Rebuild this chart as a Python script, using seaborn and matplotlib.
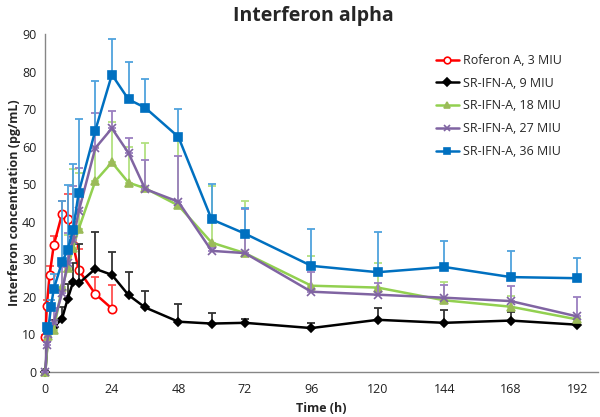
import numpy as np
import seaborn as sns
import matplotlib.pyplot as plt
from matplotlib.ticker import MultipleLocator

# Roferon A, 3 MIU
t_rof = [0, 0.5, 1.5, 3, 6, 8, 10, 12, 18, 24]
v_rof = [9.3, 17.5, 25.7, 33.7, 42.0, 40.6, 33.8, 27.1, 20.7, 16.8]
e_rof = [0.5, 1.5, 2.5, 2.5, 3.6, 6.8, 6.0, 5.5, 4.5, 6.2]

# SR-IFN-A, 9 MIU
t_9 = [0, 1, 3, 6, 8, 10, 12, 18, 24, 30, 36, 48, 60, 72, 96, 120, 144, 168, 192]
v_9 = [0, 10.5, 11.8, 14.1, 19.3, 23.9, 23.5, 27.4, 25.8, 20.4, 17.1, 13.3, 12.8,
       13.0, 11.6, 13.8, 13.0, 13.6, 12.5]
e_9 = [0, 1.0, 2.0, 3.0, 4.0, 5.0, 10.5, 9.8, 6.2, 6.1, 4.4, 4.7, 2.7,
       1.1, 1.3, 3.2, 3.4, 2.4, 0.3]

# SR-IFN-A, 18 MIU
t_18 = [0, 1, 3, 6, 8, 10, 12, 18, 24, 30, 36, 48, 60, 72, 96, 120, 144, 168, 192]
v_18 = [0, 9.5, 11.0, 22.5, 27.5, 33.0, 38.0, 50.8, 55.8, 50.4, 48.9, 44.3, 34.4,
        31.6, 22.9, 22.4, 19.0, 17.3, 13.9]
e_18 = [0, 1.0, 2.0, 4.0, 9.0, 21.0, 15.0, 9.0, 10.9, 9.5, 12.0, 18.4, 15.0,
        13.9, 7.8, 6.5, 4.9, 2.8, 0.5]

# SR-IFN-A, 27 MIU
t_27 = [0, 0.5, 1, 3, 6, 8, 10, 12, 18, 24, 30, 36, 48, 60, 72, 96, 120, 144, 168, 192]
v_27 = [0, 7.0, 10.0, 13.0, 21.0, 29.0, 35.0, 42.7, 59.6, 64.9, 58.3, 48.7, 45.3,
        32.2, 31.6, 21.3, 20.5, 19.7, 18.8, 14.7]
e_27 = [0, 1.0, 2.0, 4.0, 7.0, 8.0, 14.4, 11.7, 9.5, 4.7, 4.1, 7.8, 12.2,
        0.8, 11.7, 5.3, 3.0, 3.3, 3.9, 5.1]

# SR-IFN-A, 36 MIU
t_36 = [0.5, 1, 2, 3, 6, 8, 10, 12, 18, 24, 30, 36, 48, 60, 72, 96, 120, 144, 168, 192]
v_36 = [11.8, 11.1, 17.2, 22.0, 29.2, 32.4, 37.8, 47.7, 64.3, 79.2, 72.6, 70.4, 62.6,
        40.6, 36.8, 28.2, 26.5, 27.9, 25.2, 24.9]
e_36 = [1.0, 1.5, 2.0, 4.0, 16.4, 17.3, 17.5, 19.7, 13.3, 9.5, 10.0, 7.6, 7.4,
        9.5, 6.7, 9.9, 10.7, 6.8, 6.9, 5.5]

series = [
    ("Roferon A, 3 MIU", t_rof, v_rof, e_rof, "#FF0000", "#FF5050", "o", "white", "#FF0000", 6),
    ("SR-IFN-A, 9 MIU", t_9, v_9, e_9, "#000000", "#333333", "D", "#000000", "#000000", 4.5),
    ("SR-IFN-A, 18 MIU", t_18, v_18, e_18, "#92D050", "#B2E080", "^", "#9BBB59", "#9BBB59", 6),
    ("SR-IFN-A, 27 MIU", t_27, v_27, e_27, "#8064A2", "#9B7FC0", "x", "#8064A2", "#8064A2", 6),
    ("SR-IFN-A, 36 MIU", t_36, v_36, e_36, "#0070C0", "#4FA3DD", "s", "#0070C0", "#0070C0", 5.5),
]

sns.set_style("white")
plt.rcParams['font.family'] = ['Open Sans', 'DejaVu Sans']

fig = plt.figure(figsize=(6, 4.17), dpi=100)
ax = fig.add_axes([0.0757, 0.109, 0.921, 0.809])

for i, (lab, t, v, e, c, ec, m, mfc, mec, ms) in enumerate(series):
    ax.errorbar(t, v, yerr=[np.zeros(len(e)), e], fmt='none', ecolor=ec,
                elinewidth=1.3, capsize=3, capthick=1.3, zorder=2 + 2 * i, clip_on=False)
    sns.lineplot(x=t, y=v, ax=ax, color=c, linewidth=1.8, marker=m, markersize=ms,
                 markerfacecolor=mfc, markeredgecolor=mec,
                 markeredgewidth=1.2, label=lab, zorder=3 + 2 * i, clip_on=False,
                 estimator=None, sort=False)

ax.set_xlim(0, 199.5)
ax.set_ylim(0, 90)
ax.xaxis.set_major_locator(MultipleLocator(24))
ax.xaxis.set_minor_locator(MultipleLocator(12))
ax.yaxis.set_major_locator(MultipleLocator(10))

for s in ["top", "right"]:
    ax.spines[s].set_visible(False)
for s in ["left", "bottom"]:
    ax.spines[s].set_color("#868686")
    ax.spines[s].set_linewidth(1.0)

ax.tick_params(axis='both', which='major', direction='inout', length=7, width=1,
               color="#868686", labelsize=9, labelcolor="#222222", pad=3)
ax.tick_params(axis='x', which='minor', direction='inout', length=7, width=1,
               color="#868686")
ax.tick_params(axis='x', which='major', pad=5)

ax.set_xlabel("Time (h)", fontsize=9, fontweight='bold', labelpad=4)
ax.set_ylabel("Interferon concentration (pg/mL)", fontsize=9, fontweight='bold', labelpad=1)
fig.suptitle("Interferon alpha", x=0.522, y=0.985, fontsize=14, fontweight='bold')

ax.legend(loc='upper right', bbox_to_anchor=(0.955, 0.975), frameon=False, fontsize=9,
          handlelength=1.9, labelspacing=0.78, handletextpad=0.3, markerscale=0.8)

fig.savefig("out.png", dpi=100)
